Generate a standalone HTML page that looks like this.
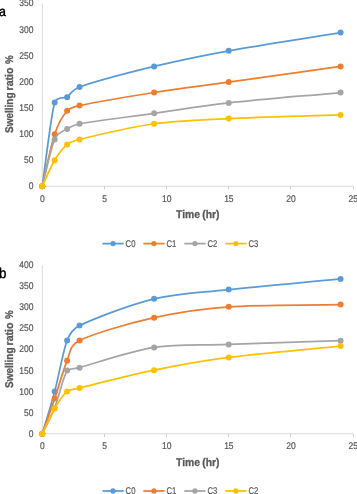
<!DOCTYPE html>
<html><head><meta charset="utf-8"><style>
html,body{margin:0;padding:0;background:#fff;}
svg{will-change:transform;display:block;text-rendering:geometricPrecision;font-family:"Liberation Sans",sans-serif;}
</style></head><body>
<svg width="357" height="494" viewBox="0 0 357 494">
<line x1="42.3" y1="3.47" x2="42.3" y2="186.25" stroke="#D9D9D9" stroke-width="1"/>
<line x1="42.3" y1="186.25" x2="353.50" y2="186.25" stroke="#D9D9D9" stroke-width="1"/>
<line x1="104.50" y1="186.5" x2="104.50" y2="189.45" stroke="#CFCFCF" stroke-width="1"/>
<line x1="166.50" y1="186.5" x2="166.50" y2="189.45" stroke="#CFCFCF" stroke-width="1"/>
<line x1="228.50" y1="186.5" x2="228.50" y2="189.45" stroke="#CFCFCF" stroke-width="1"/>
<line x1="290.50" y1="186.5" x2="290.50" y2="189.45" stroke="#CFCFCF" stroke-width="1"/>
<line x1="353.50" y1="186.5" x2="353.50" y2="189.45" stroke="#CFCFCF" stroke-width="1"/>
<text x="33.50" y="189.20" text-anchor="end" font-size="9.7" fill="#595959" stroke="#595959" stroke-width="0.22" textLength="4.72" lengthAdjust="spacingAndGlyphs">0</text>
<text x="33.50" y="163.16" text-anchor="end" font-size="9.7" fill="#595959" stroke="#595959" stroke-width="0.22" textLength="9.44" lengthAdjust="spacingAndGlyphs">50</text>
<text x="33.50" y="137.07" text-anchor="end" font-size="9.7" fill="#595959" stroke="#595959" stroke-width="0.22" textLength="14.16" lengthAdjust="spacingAndGlyphs">100</text>
<text x="33.50" y="110.98" text-anchor="end" font-size="9.7" fill="#595959" stroke="#595959" stroke-width="0.22" textLength="14.16" lengthAdjust="spacingAndGlyphs">150</text>
<text x="33.50" y="84.89" text-anchor="end" font-size="9.7" fill="#595959" stroke="#595959" stroke-width="0.22" textLength="14.16" lengthAdjust="spacingAndGlyphs">200</text>
<text x="33.50" y="58.80" text-anchor="end" font-size="9.7" fill="#595959" stroke="#595959" stroke-width="0.22" textLength="14.16" lengthAdjust="spacingAndGlyphs">250</text>
<text x="33.50" y="32.71" text-anchor="end" font-size="9.7" fill="#595959" stroke="#595959" stroke-width="0.22" textLength="14.16" lengthAdjust="spacingAndGlyphs">300</text>
<text x="33.50" y="6.47" text-anchor="end" font-size="9.7" fill="#595959" stroke="#595959" stroke-width="0.22" textLength="14.16" lengthAdjust="spacingAndGlyphs">350</text>
<text x="40.04" y="201.80" font-size="9.7" fill="#595959" stroke="#595959" stroke-width="0.22" textLength="4.72" lengthAdjust="spacingAndGlyphs">0</text>
<text x="102.19" y="201.80" font-size="9.7" fill="#595959" stroke="#595959" stroke-width="0.22" textLength="4.72" lengthAdjust="spacingAndGlyphs">5</text>
<text x="161.98" y="201.80" font-size="9.7" fill="#595959" stroke="#595959" stroke-width="0.22" textLength="9.44" lengthAdjust="spacingAndGlyphs">10</text>
<text x="224.13" y="201.80" font-size="9.7" fill="#595959" stroke="#595959" stroke-width="0.22" textLength="9.44" lengthAdjust="spacingAndGlyphs">15</text>
<text x="286.28" y="201.80" font-size="9.7" fill="#595959" stroke="#595959" stroke-width="0.22" textLength="9.44" lengthAdjust="spacingAndGlyphs">20</text>
<text x="348.43" y="201.80" font-size="9.7" fill="#595959" stroke="#595959" stroke-width="0.22" textLength="9.44" lengthAdjust="spacingAndGlyphs">25</text>
<text x="176.1" y="218.2" font-size="11.2" font-weight="bold" fill="#595959" stroke="#595959" stroke-width="0.3" lengthAdjust="spacingAndGlyphs" textLength="23.9">Time</text>
<text x="202.29999999999998" y="218.2" font-size="11.2" font-weight="bold" fill="#595959" stroke="#595959" stroke-width="0.3" lengthAdjust="spacingAndGlyphs" textLength="17.2">(hr)</text>
<text transform="translate(13.2,132.9) rotate(-90)" font-size="11.2" font-weight="bold" fill="#595959" stroke="#595959" stroke-width="0.3" lengthAdjust="spacingAndGlyphs" textLength="40.4">Swelling</text>
<text transform="translate(13.2,90.4) rotate(-90)" font-size="11.2" font-weight="bold" fill="#595959" stroke="#595959" stroke-width="0.3" lengthAdjust="spacingAndGlyphs" textLength="22.9">ratio</text>
<text transform="translate(13.2,64.10000000000001) rotate(-90)" font-size="11.2" font-weight="bold" fill="#595959" stroke="#595959" stroke-width="0.3" lengthAdjust="spacingAndGlyphs" textLength="8.7">%</text>
<text x="-1.0" y="15.5" font-size="13.5" fill="#000" stroke="#000" stroke-width="0.45" textLength="6.9" lengthAdjust="spacingAndGlyphs">a</text>
<path d="M42.25,186.25 C46.39,158.30 50.54,117.24 54.68,102.40 C56.49,95.91 65.30,98.31 67.11,97.19 C69.27,95.86 71.97,89.71 79.54,87.04 C94.04,81.92 129.26,72.50 154.12,66.47 C178.98,60.43 197.62,56.48 228.70,50.84 C259.77,45.20 303.28,38.69 340.57,32.61" fill="none" stroke="#5B9BD5" stroke-width="1.75" stroke-linecap="round" stroke-linejoin="round"/>
<circle cx="42.25" cy="186.25" r="3.0" fill="#5B9BD5"/>
<circle cx="54.68" cy="102.40" r="3.0" fill="#5B9BD5"/>
<circle cx="67.11" cy="97.19" r="3.0" fill="#5B9BD5"/>
<circle cx="79.54" cy="87.04" r="3.0" fill="#5B9BD5"/>
<circle cx="154.12" cy="66.47" r="3.0" fill="#5B9BD5"/>
<circle cx="228.70" cy="50.84" r="3.0" fill="#5B9BD5"/>
<circle cx="340.57" cy="32.61" r="3.0" fill="#5B9BD5"/>
<path d="M42.25,186.25 C46.39,168.89 50.54,146.76 54.68,134.17 C58.82,121.58 62.97,115.51 67.11,110.73 C68.99,108.56 72.94,106.91 79.54,105.53 C94.04,102.49 129.26,96.41 154.12,92.51 C178.98,88.60 197.62,86.43 228.70,82.09 C259.77,77.75 303.28,71.67 340.57,66.47" fill="none" stroke="#ED7D31" stroke-width="1.75" stroke-linecap="round" stroke-linejoin="round"/>
<circle cx="42.25" cy="186.25" r="3.0" fill="#ED7D31"/>
<circle cx="54.68" cy="134.17" r="3.0" fill="#ED7D31"/>
<circle cx="67.11" cy="110.73" r="3.0" fill="#ED7D31"/>
<circle cx="79.54" cy="105.53" r="3.0" fill="#ED7D31"/>
<circle cx="154.12" cy="92.51" r="3.0" fill="#ED7D31"/>
<circle cx="228.70" cy="82.09" r="3.0" fill="#ED7D31"/>
<circle cx="340.57" cy="66.47" r="3.0" fill="#ED7D31"/>
<path d="M42.25,186.25 C46.39,170.63 50.54,148.93 54.68,139.38 C57.91,131.94 63.88,130.99 67.11,128.96 C69.00,127.77 72.91,124.94 79.54,123.75 C94.04,121.15 129.26,116.81 154.12,113.34 C178.98,109.87 197.62,106.39 228.70,102.92 C259.77,99.45 303.28,95.98 340.57,92.51" fill="none" stroke="#A5A5A5" stroke-width="1.75" stroke-linecap="round" stroke-linejoin="round"/>
<circle cx="42.25" cy="186.25" r="3.0" fill="#A5A5A5"/>
<circle cx="54.68" cy="139.38" r="3.0" fill="#A5A5A5"/>
<circle cx="67.11" cy="128.96" r="3.0" fill="#A5A5A5"/>
<circle cx="79.54" cy="123.75" r="3.0" fill="#A5A5A5"/>
<circle cx="154.12" cy="113.34" r="3.0" fill="#A5A5A5"/>
<circle cx="228.70" cy="102.92" r="3.0" fill="#A5A5A5"/>
<circle cx="340.57" cy="92.51" r="3.0" fill="#A5A5A5"/>
<path d="M42.25,186.25 C46.39,177.57 50.54,167.15 54.68,160.21 C58.82,153.27 62.97,148.06 67.11,144.59 C68.98,143.02 72.99,140.95 79.54,139.38 C94.04,135.91 129.26,127.23 154.12,123.75 C178.98,120.28 197.62,120.02 228.70,118.55 C259.77,117.07 303.28,116.12 340.57,114.90" fill="none" stroke="#FFC000" stroke-width="1.75" stroke-linecap="round" stroke-linejoin="round"/>
<circle cx="42.25" cy="186.25" r="3.0" fill="#FFC000"/>
<circle cx="54.68" cy="160.21" r="3.0" fill="#FFC000"/>
<circle cx="67.11" cy="144.59" r="3.0" fill="#FFC000"/>
<circle cx="79.54" cy="139.38" r="3.0" fill="#FFC000"/>
<circle cx="154.12" cy="123.75" r="3.0" fill="#FFC000"/>
<circle cx="228.70" cy="118.55" r="3.0" fill="#FFC000"/>
<circle cx="340.57" cy="114.90" r="3.0" fill="#FFC000"/>
<line x1="102.40" y1="243.6" x2="123.70" y2="243.6" stroke="#5B9BD5" stroke-width="1.75"/>
<circle cx="113.00" cy="243.6" r="2.65" fill="#5B9BD5"/>
<text x="125.60" y="246.90" font-size="9.7" fill="#595959" stroke="#595959" stroke-width="0.22" textLength="9.8" lengthAdjust="spacingAndGlyphs">C0</text>
<line x1="143.35" y1="243.6" x2="164.65" y2="243.6" stroke="#ED7D31" stroke-width="1.75"/>
<circle cx="153.95" cy="243.6" r="2.65" fill="#ED7D31"/>
<text x="166.55" y="246.90" font-size="9.7" fill="#595959" stroke="#595959" stroke-width="0.22" textLength="9.8" lengthAdjust="spacingAndGlyphs">C1</text>
<line x1="184.30" y1="243.6" x2="205.60" y2="243.6" stroke="#A5A5A5" stroke-width="1.75"/>
<circle cx="194.90" cy="243.6" r="2.65" fill="#A5A5A5"/>
<text x="207.50" y="246.90" font-size="9.7" fill="#595959" stroke="#595959" stroke-width="0.22" textLength="9.8" lengthAdjust="spacingAndGlyphs">C2</text>
<line x1="225.25" y1="243.6" x2="246.55" y2="243.6" stroke="#FFC000" stroke-width="1.75"/>
<circle cx="235.85" cy="243.6" r="2.65" fill="#FFC000"/>
<text x="248.45" y="246.90" font-size="9.7" fill="#595959" stroke="#595959" stroke-width="0.22" textLength="9.8" lengthAdjust="spacingAndGlyphs">C3</text>
<line x1="42.3" y1="264.90" x2="42.3" y2="433.75" stroke="#D9D9D9" stroke-width="1"/>
<line x1="42.3" y1="433.75" x2="353.50" y2="433.75" stroke="#D9D9D9" stroke-width="1"/>
<line x1="104.50" y1="434.1" x2="104.50" y2="437.05" stroke="#CFCFCF" stroke-width="1"/>
<line x1="166.50" y1="434.1" x2="166.50" y2="437.05" stroke="#CFCFCF" stroke-width="1"/>
<line x1="228.50" y1="434.1" x2="228.50" y2="437.05" stroke="#CFCFCF" stroke-width="1"/>
<line x1="290.50" y1="434.1" x2="290.50" y2="437.05" stroke="#CFCFCF" stroke-width="1"/>
<line x1="353.50" y1="434.1" x2="353.50" y2="437.05" stroke="#CFCFCF" stroke-width="1"/>
<text x="33.50" y="436.85" text-anchor="end" font-size="9.7" fill="#595959" stroke="#595959" stroke-width="0.22" textLength="4.72" lengthAdjust="spacingAndGlyphs">0</text>
<text x="33.50" y="416.10" text-anchor="end" font-size="9.7" fill="#595959" stroke="#595959" stroke-width="0.22" textLength="9.44" lengthAdjust="spacingAndGlyphs">50</text>
<text x="33.50" y="394.90" text-anchor="end" font-size="9.7" fill="#595959" stroke="#595959" stroke-width="0.22" textLength="14.16" lengthAdjust="spacingAndGlyphs">100</text>
<text x="33.50" y="373.80" text-anchor="end" font-size="9.7" fill="#595959" stroke="#595959" stroke-width="0.22" textLength="14.16" lengthAdjust="spacingAndGlyphs">150</text>
<text x="33.50" y="352.30" text-anchor="end" font-size="9.7" fill="#595959" stroke="#595959" stroke-width="0.22" textLength="14.16" lengthAdjust="spacingAndGlyphs">200</text>
<text x="33.50" y="331.10" text-anchor="end" font-size="9.7" fill="#595959" stroke="#595959" stroke-width="0.22" textLength="14.16" lengthAdjust="spacingAndGlyphs">250</text>
<text x="33.50" y="309.85" text-anchor="end" font-size="9.7" fill="#595959" stroke="#595959" stroke-width="0.22" textLength="14.16" lengthAdjust="spacingAndGlyphs">300</text>
<text x="33.50" y="288.70" text-anchor="end" font-size="9.7" fill="#595959" stroke="#595959" stroke-width="0.22" textLength="14.16" lengthAdjust="spacingAndGlyphs">350</text>
<text x="33.50" y="268.15" text-anchor="end" font-size="9.7" fill="#595959" stroke="#595959" stroke-width="0.22" textLength="14.16" lengthAdjust="spacingAndGlyphs">400</text>
<text x="40.04" y="449.20" font-size="9.7" fill="#595959" stroke="#595959" stroke-width="0.22" textLength="4.72" lengthAdjust="spacingAndGlyphs">0</text>
<text x="102.19" y="449.20" font-size="9.7" fill="#595959" stroke="#595959" stroke-width="0.22" textLength="4.72" lengthAdjust="spacingAndGlyphs">5</text>
<text x="161.98" y="449.20" font-size="9.7" fill="#595959" stroke="#595959" stroke-width="0.22" textLength="9.44" lengthAdjust="spacingAndGlyphs">10</text>
<text x="224.13" y="449.20" font-size="9.7" fill="#595959" stroke="#595959" stroke-width="0.22" textLength="9.44" lengthAdjust="spacingAndGlyphs">15</text>
<text x="286.28" y="449.20" font-size="9.7" fill="#595959" stroke="#595959" stroke-width="0.22" textLength="9.44" lengthAdjust="spacingAndGlyphs">20</text>
<text x="348.43" y="449.20" font-size="9.7" fill="#595959" stroke="#595959" stroke-width="0.22" textLength="9.44" lengthAdjust="spacingAndGlyphs">25</text>
<text x="176.1" y="465.7" font-size="11.2" font-weight="bold" fill="#595959" stroke="#595959" stroke-width="0.3" lengthAdjust="spacingAndGlyphs" textLength="23.9">Time</text>
<text x="202.29999999999998" y="465.7" font-size="11.2" font-weight="bold" fill="#595959" stroke="#595959" stroke-width="0.3" lengthAdjust="spacingAndGlyphs" textLength="17.2">(hr)</text>
<text transform="translate(13.2,387.9) rotate(-90)" font-size="11.2" font-weight="bold" fill="#595959" stroke="#595959" stroke-width="0.3" lengthAdjust="spacingAndGlyphs" textLength="40.4">Swelling</text>
<text transform="translate(13.2,345.4) rotate(-90)" font-size="11.2" font-weight="bold" fill="#595959" stroke="#595959" stroke-width="0.3" lengthAdjust="spacingAndGlyphs" textLength="22.9">ratio</text>
<text transform="translate(13.2,319.09999999999997) rotate(-90)" font-size="11.2" font-weight="bold" fill="#595959" stroke="#595959" stroke-width="0.3" lengthAdjust="spacingAndGlyphs" textLength="8.7">%</text>
<text x="-0.9" y="277.6" font-size="14.2" fill="#000" stroke="#000" stroke-width="0.45" textLength="7.4" lengthAdjust="spacingAndGlyphs">b</text>
<path d="M42.25,433.85 C46.39,419.70 50.54,406.97 54.68,391.40 C58.82,375.84 62.97,351.43 67.11,340.46 C69.17,335.00 72.32,329.05 79.54,325.60 C94.04,318.67 129.26,304.87 154.12,298.86 C178.98,292.85 197.62,292.85 228.70,289.52 C259.77,286.19 303.28,282.45 340.57,278.91" fill="none" stroke="#5B9BD5" stroke-width="1.75" stroke-linecap="round" stroke-linejoin="round"/>
<circle cx="42.25" cy="433.85" r="3.0" fill="#5B9BD5"/>
<circle cx="54.68" cy="391.40" r="3.0" fill="#5B9BD5"/>
<circle cx="67.11" cy="340.46" r="3.0" fill="#5B9BD5"/>
<circle cx="79.54" cy="325.60" r="3.0" fill="#5B9BD5"/>
<circle cx="154.12" cy="298.86" r="3.0" fill="#5B9BD5"/>
<circle cx="228.70" cy="289.52" r="3.0" fill="#5B9BD5"/>
<circle cx="340.57" cy="278.91" r="3.0" fill="#5B9BD5"/>
<path d="M42.25,433.85 C46.39,422.11 50.54,410.79 54.68,398.62 C58.82,386.45 62.97,370.53 67.11,360.84 C70.16,353.69 68.85,345.76 79.54,340.46 C94.04,333.26 129.26,323.27 154.12,317.66 C178.98,312.05 197.62,308.98 228.70,306.80 C259.77,304.62 303.28,305.33 340.57,304.59" fill="none" stroke="#ED7D31" stroke-width="1.75" stroke-linecap="round" stroke-linejoin="round"/>
<circle cx="42.25" cy="433.85" r="3.0" fill="#ED7D31"/>
<circle cx="54.68" cy="398.62" r="3.0" fill="#ED7D31"/>
<circle cx="67.11" cy="360.84" r="3.0" fill="#ED7D31"/>
<circle cx="79.54" cy="340.46" r="3.0" fill="#ED7D31"/>
<circle cx="154.12" cy="317.66" r="3.0" fill="#ED7D31"/>
<circle cx="228.70" cy="306.80" r="3.0" fill="#ED7D31"/>
<circle cx="340.57" cy="304.59" r="3.0" fill="#ED7D31"/>
<path d="M42.25,433.85 C46.39,425.22 50.54,418.50 54.68,407.96 C58.82,397.41 62.97,377.32 67.11,370.60 C68.54,368.28 74.54,368.96 79.54,367.63 C94.04,363.77 129.26,351.28 154.12,347.42 C178.98,343.56 197.62,345.58 228.70,344.45 C259.77,343.33 303.28,341.93 340.57,340.67" fill="none" stroke="#A5A5A5" stroke-width="1.75" stroke-linecap="round" stroke-linejoin="round"/>
<circle cx="42.25" cy="433.85" r="3.0" fill="#A5A5A5"/>
<circle cx="54.68" cy="407.96" r="3.0" fill="#A5A5A5"/>
<circle cx="67.11" cy="370.60" r="3.0" fill="#A5A5A5"/>
<circle cx="79.54" cy="367.63" r="3.0" fill="#A5A5A5"/>
<circle cx="154.12" cy="347.42" r="3.0" fill="#A5A5A5"/>
<circle cx="228.70" cy="344.45" r="3.0" fill="#A5A5A5"/>
<circle cx="340.57" cy="340.67" r="3.0" fill="#A5A5A5"/>
<path d="M42.25,433.85 C46.39,425.36 50.54,415.45 54.68,408.38 C58.82,401.31 62.97,394.80 67.11,391.40 C68.90,389.93 73.28,389.53 79.54,388.00 C94.04,384.47 129.26,375.27 154.12,370.18 C178.98,365.08 197.62,361.46 228.70,357.44 C259.77,353.42 303.28,349.86 340.57,346.06" fill="none" stroke="#FFC000" stroke-width="1.75" stroke-linecap="round" stroke-linejoin="round"/>
<circle cx="42.25" cy="433.85" r="3.0" fill="#FFC000"/>
<circle cx="54.68" cy="408.38" r="3.0" fill="#FFC000"/>
<circle cx="67.11" cy="391.40" r="3.0" fill="#FFC000"/>
<circle cx="79.54" cy="388.00" r="3.0" fill="#FFC000"/>
<circle cx="154.12" cy="370.18" r="3.0" fill="#FFC000"/>
<circle cx="228.70" cy="357.44" r="3.0" fill="#FFC000"/>
<circle cx="340.57" cy="346.06" r="3.0" fill="#FFC000"/>
<line x1="102.40" y1="491" x2="123.70" y2="491" stroke="#5B9BD5" stroke-width="1.75"/>
<circle cx="113.00" cy="491" r="2.65" fill="#5B9BD5"/>
<text x="125.60" y="494.30" font-size="9.7" fill="#595959" stroke="#595959" stroke-width="0.22" textLength="9.8" lengthAdjust="spacingAndGlyphs">C0</text>
<line x1="143.35" y1="491" x2="164.65" y2="491" stroke="#ED7D31" stroke-width="1.75"/>
<circle cx="153.95" cy="491" r="2.65" fill="#ED7D31"/>
<text x="166.55" y="494.30" font-size="9.7" fill="#595959" stroke="#595959" stroke-width="0.22" textLength="9.8" lengthAdjust="spacingAndGlyphs">C1</text>
<line x1="184.30" y1="491" x2="205.60" y2="491" stroke="#A5A5A5" stroke-width="1.75"/>
<circle cx="194.90" cy="491" r="2.65" fill="#A5A5A5"/>
<text x="207.50" y="494.30" font-size="9.7" fill="#595959" stroke="#595959" stroke-width="0.22" textLength="9.8" lengthAdjust="spacingAndGlyphs">C3</text>
<line x1="225.25" y1="491" x2="246.55" y2="491" stroke="#FFC000" stroke-width="1.75"/>
<circle cx="235.85" cy="491" r="2.65" fill="#FFC000"/>
<text x="248.45" y="494.30" font-size="9.7" fill="#595959" stroke="#595959" stroke-width="0.22" textLength="9.8" lengthAdjust="spacingAndGlyphs">C2</text>
</svg>
</body></html>
